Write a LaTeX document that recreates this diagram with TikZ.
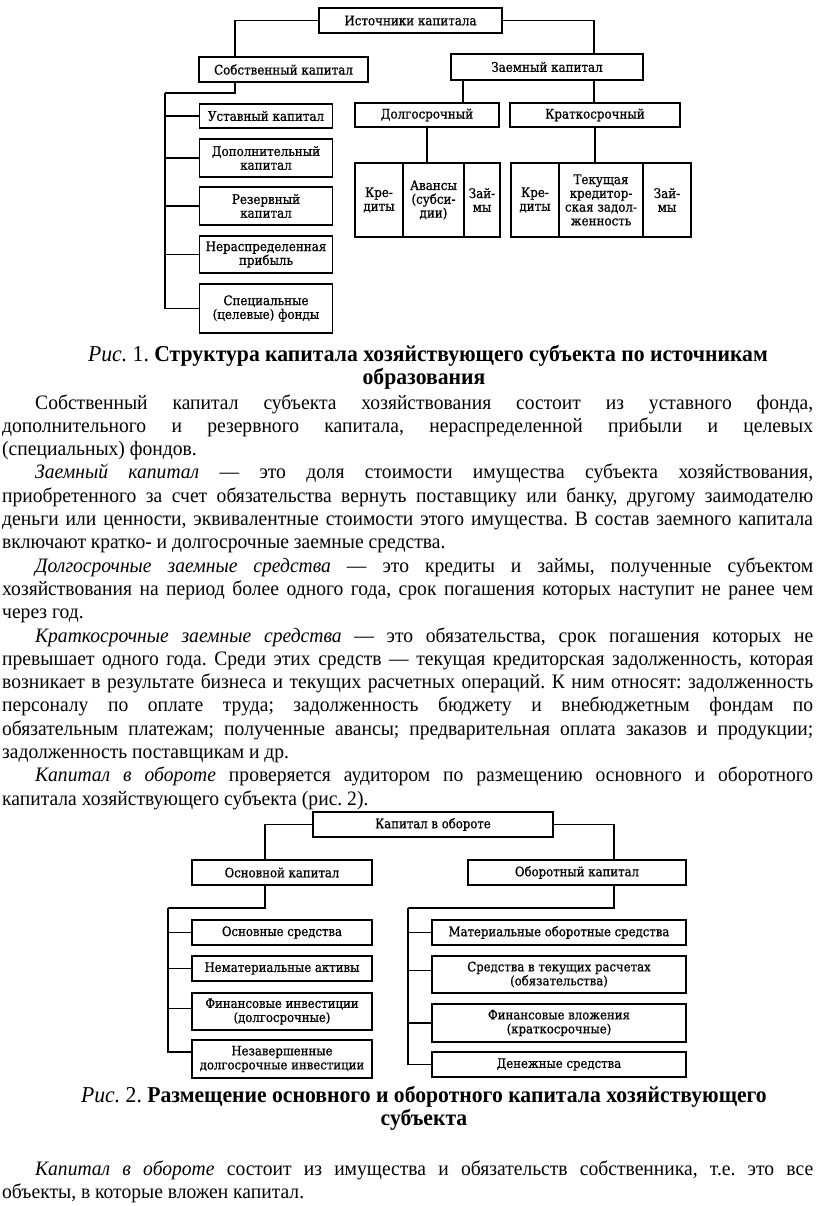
\documentclass[tikz,border=0pt]{standalone}
\usepackage{fontspec}
\setmainfont{Liberation Serif}[FakeStretch=0.955]
\newfontfamily\dfont{DejaVu Serif}[FakeStretch=0.9, FakeBold=0.8]
\usetikzlibrary{calc}
\tikzset{
  box/.style={draw, line width=1.3pt, inner sep=1pt, align=center,
    font=\dfont\fontsize{13.2}{13.8}\selectfont},
  box2/.style={box, font=\dfont\fontsize{13}{14}\selectfont},
  conn/.style={line width=1.1pt},
  bline/.style={anchor=base west, inner sep=0pt, font=\fontsize{20.5}{23.3}\selectfont},
  capline/.style={anchor=base, inner sep=0pt, font=\fontsize{22.7}{23}\selectfont},
}
\begin{document}
\frenchspacing
\begin{tikzpicture}[x=1pt,y=-1pt]
\fill[white] (0,0) rectangle (816,1206);
\useasboundingbox (0,0) rectangle (816,1206);

% ---------------- Diagram 1 ----------------
\node[box, minimum width=183pt, minimum height=25pt] (src) at (410.5,20.5) {Источники капитала};
\node[box, minimum width=169pt, minimum height=25pt] (own) at (283.5,69.5) {Собственный капитал};
\node[box, minimum width=192pt, minimum height=26pt] (borr) at (547,67) {Заемный капитал};

\node[box, minimum width=133pt, minimum height=24pt] (ust) at (266,116) {Уставный капитал};
\node[box, minimum width=133pt, minimum height=38pt] (dop) at (266,158) {Дополнительный\\капитал};
\node[box, minimum width=133pt, minimum height=38pt] (rez) at (266,206) {Резервный\\капитал};
\node[box, minimum width=133pt, minimum height=37pt] (ner) at (266,254.5) {Нераспределенная\\прибыль};
\node[box, minimum width=133pt, minimum height=49pt] (spec) at (266,308.5) {Специальные\\(целевые) фонды};

\node[box, minimum width=144pt, minimum height=24pt] (long) at (427,115) {Долгосрочный};
\node[box, minimum width=170pt, minimum height=24pt] (short) at (595,115) {Краткосрочный};

\node[box, minimum width=48pt, minimum height=74pt] (g1a) at (379,200) {Кре-\\диты};
\node[box, minimum width=61pt, minimum height=74pt] (g1b) at (433.5,200) {Авансы\\(субси-\\дии)};
\node[box, minimum width=36pt, minimum height=74pt] (g1c) at (482,200) {Зай-\\мы};
\node[box, minimum width=48pt, minimum height=74pt] (g2a) at (535,200) {Кре-\\диты};
\node[box, minimum width=84pt, minimum height=74pt] (g2b) at (601,200) {Текущая\\кредитор-\\ская задол-\\женность};
\node[box, minimum width=48pt, minimum height=74pt] (g2c) at (667,200) {Зай-\\мы};

\coordinate (t1) at (165,93);
\coordinate (a1) at ([xshift=-48.5pt]own.north);
\coordinate (a2) at ([xshift=-48.5pt]own.south);
\draw[conn] (src.west) -| (a1);
\draw[conn] (a2) |- (t1);
\draw[conn] (t1) |- (spec.west);
\foreach \n in {ust,dop,rez,ner} \draw[conn] (\n.west -| t1) -- (\n.west);

\coordinate (b0) at ([xshift=47pt]borr.north);
\coordinate (b1) at ([xshift=-84pt]borr.south);
\coordinate (b2) at ([xshift=47pt]borr.south);
\draw[conn] (src.east) -| (b0);
\draw[conn] (b1) -- (b1 |- long.north);
\draw[conn] (b2) -- (b2 |- short.north);
\draw[conn] (long.south) -- (long.south |- g1b.north);
\draw[conn] (short.south) -- (short.south |- g2b.north);

% ---------------- Caption 1 ----------------
\node[capline] (c1a) at (428,361) {\textit{Рис.} 1. \textbf{Структура капитала хозяйствующего субъекта по источникам}};
\node[capline] (c1b) at (424,384) {\textbf{образования}};

% ---------------- Body text ----------------
\node[bline] (l1) at (35,409) {\makebox[778pt][s]{Собственный капитал субъекта хозяйствования состоит из уставного фонда,}};
\node[bline] (l2) at (2,432.3) {\makebox[811pt][s]{дополнительного и резервного капитала, нераспределенной прибыли и целевых}};
\node[bline] (l3) at (2,455.6) {(специальных) фондов.};
\node[bline] (l4) at (35,478.9) {\makebox[778pt][s]{\textit{Заемный капитал} — это доля стоимости имущества субъекта хозяйствования,}};
\node[bline] (l5) at (2,502.2) {\makebox[811pt][s]{приобретенного за счет обязательства вернуть поставщику или банку, другому заимодателю}};
\node[bline] (l6) at (2,525.5) {\makebox[811pt][s]{деньги или ценности, эквивалентные стоимости этого имущества. В состав заемного капитала}};
\node[bline] (l7) at (2,548.8) {включают кратко- и долгосрочные заемные средства.};
\node[bline] (l8) at (35,572.1) {\makebox[778pt][s]{\textit{Долгосрочные заемные средства} — это кредиты и займы, полученные субъектом}};
\node[bline] (l9) at (2,595.4) {\makebox[811pt][s]{хозяйствования на период более одного года, срок погашения которых наступит не ранее чем}};
\node[bline] (l10) at (2,618.7) {через год.};
\node[bline] (l11) at (35,642) {\makebox[778pt][s]{\textit{Краткосрочные заемные средства} — это обязательства, срок погашения которых не}};
\node[bline] (l12) at (2,665.3) {\makebox[811pt][s]{превышает одного года. Среди этих средств — текущая кредиторская задолженность, которая}};
\node[bline] (l13) at (2,688.6) {\makebox[811pt][s]{возникает в результате бизнеса и текущих расчетных операций. К ним относят: задолженность}};
\node[bline] (l14) at (2,711.9) {\makebox[811pt][s]{персоналу по оплате труда; задолженность бюджету и внебюджетным фондам по}};
\node[bline] (l15) at (2,735.2) {\makebox[811pt][s]{обязательным платежам; полученные авансы; предварительная оплата заказов и продукции;}};
\node[bline] (l16) at (2,758.5) {задолженность поставщикам и др.};
\node[bline] (l17) at (35,781.8) {\makebox[778pt][s]{\textit{Капитал в обороте} проверяется аудитором по размещению основного и оборотного}};
\node[bline] (l18) at (2,805.1) {капитала хозяйствующего субъекта (рис. 2).};

% ---------------- Diagram 2 ----------------
\node[box2, minimum width=240pt, minimum height=25pt] (kob) at (433,824.5) {Капитал в обороте};
\node[box2, minimum width=180pt, minimum height=25pt] (osn) at (282,872.5) {Основной капитал};
\node[box2, minimum width=218pt, minimum height=25pt] (obor) at (577,872.5) {Оборотный капитал};

\node[box2, minimum width=180pt, minimum height=25pt] (os1) at (282,932.5) {Основные средства};
\node[box2, minimum width=180pt, minimum height=25pt] (os2) at (282,968.5) {Нематериальные активы};
\node[box2, minimum width=180pt, minimum height=37pt] (os3) at (282,1011.5) {Финансовые инвестиции\\(долгосрочные)};
\node[box2, minimum width=180pt, minimum height=38pt] (os4) at (282,1059) {Незавершенные\\долгосрочные инвестиции};

\node[box2, minimum width=254pt, minimum height=25pt] (ob1) at (559,932.5) {Материальные оборотные средства};
\node[box2, minimum width=254pt, minimum height=37pt] (ob2) at (559,974.5) {Средства в текущих расчетах\\(обязательства)};
\node[box2, minimum width=254pt, minimum height=38pt] (ob3) at (559,1023) {Финансовые вложения\\(краткосрочные)};
\node[box2, minimum width=254pt, minimum height=25pt] (ob4) at (559,1064.5) {Денежные средства};

\coordinate (k1) at ([xshift=-17pt]osn.north);
\coordinate (k2) at ([xshift=37pt]obor.north);
\coordinate (k3) at ([xshift=-17pt]osn.south);
\coordinate (k4) at ([xshift=37pt]obor.south);
\coordinate (t2) at (168,908);
\coordinate (t3) at (408,908);
\draw[conn] (kob.west) -| (k1);
\draw[conn] (kob.east) -| (k2);
\draw[conn] (k3) |- (t2);
\draw[conn] (k4) |- (t3);
\coordinate (e4) at ([yshift=7pt]os4.west);
\coordinate (e3) at ([yshift=3pt]os3.west);
\draw[conn] (t2) |- (e4);
\draw[conn] (os1.west -| t2) -- (os1.west);
\draw[conn] (os2.west -| t2) -- (os2.west);
\draw[conn] (e3 -| t2) -- (e3);
\coordinate (f2) at ([yshift=4pt]ob2.west);
\draw[conn] (t3) |- (ob4.west);
\draw[conn] (ob1.west -| t3) -- (ob1.west);
\draw[conn] (f2 -| t3) -- (f2);
\draw[conn] (ob3.west -| t3) -- (ob3.west);

% ---------------- Caption 2 and closing paragraph ----------------
\node[capline] (c2a) at (424,1102) {\textit{Рис.} 2. \textbf{Размещение основного и оборотного капитала хозяйствующего}};
\node[capline] (c2b) at (424,1125) {\textbf{субъекта}};
\node[bline] (m1) at (35,1175) {\makebox[778pt][s]{\textit{Капитал в обороте} состоит из имущества и обязательств собственника, т.е. это все}};
\node[bline] (m2) at (2,1198) {объекты, в которые вложен капитал.};
\end{tikzpicture}
\end{document}
